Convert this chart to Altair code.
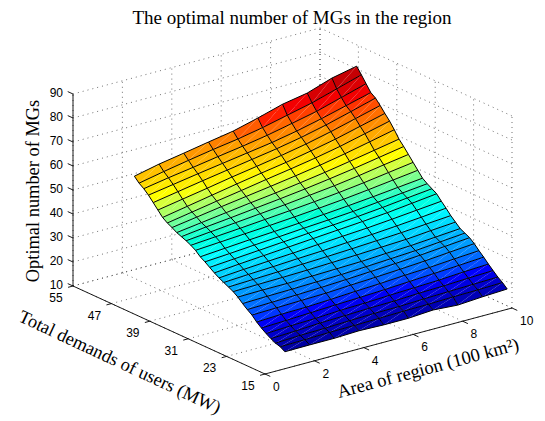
import altair as alt
import pandas as pd

TITLE = "The optimal number of MGs in the region"
X_LABEL = "Area of region (100 km²)"
Y_LABEL = "Total demands of users (MW)"
Z_LABEL = "Optimal number of MGs"

area = [1, 2, 3, 4, 5, 6, 7, 8, 9, 10]
demand = [round(16 + 0.98 * i, 2) for i in range(33)]
# one row per demand level (low to high), one value per area
mgs = [
    [15.6, 15.7, 15.7, 16.1, 15.8, 15.8, 16.5, 15.8, 16.5, 17.0],
    [16.8, 17.0, 17.3, 17.4, 17.6, 17.9, 18.0, 18.3, 18.5, 18.8],
    [17.4, 17.9, 18.1, 18.5, 18.8, 18.9, 19.3, 19.6, 19.9, 20.2],
    [18.4, 18.8, 19.4, 19.7, 20.1, 20.3, 20.8, 21.1, 21.6, 22.0],
    [19.6, 20.1, 20.4, 21.0, 21.3, 21.8, 22.2, 22.6, 23.3, 23.8],
    [21.0, 21.4, 21.9, 22.4, 22.8, 23.3, 23.9, 24.5, 25.1, 25.8],
    [22.6, 23.1, 23.3, 23.8, 24.4, 24.9, 25.6, 26.1, 26.9, 27.6],
    [24.6, 24.9, 25.2, 25.5, 26.1, 26.6, 27.2, 27.9, 28.8, 29.6],
    [26.0, 26.3, 26.6, 27.0, 27.5, 28.1, 28.7, 29.4, 30.3, 31.2],
    [27.6, 27.9, 28.1, 28.4, 28.7, 29.2, 29.8, 30.4, 31.3, 32.2],
    [29.4, 29.6, 29.6, 29.9, 30.2, 30.5, 31.1, 31.6, 32.4, 33.2],
    [30.8, 31.0, 31.2, 31.5, 31.9, 32.3, 32.8, 33.3, 34.2, 35.0],
    [31.8, 32.2, 32.6, 33.1, 33.5, 34.0, 34.6, 35.2, 36.0, 36.8],
    [32.8, 33.4, 33.9, 34.5, 35.0, 35.7, 36.3, 37.1, 38.0, 39.0],
    [33.8, 34.6, 35.3, 35.9, 36.7, 37.4, 38.1, 39.0, 40.0, 41.0],
    [35.0, 35.9, 36.7, 37.5, 38.3, 39.1, 39.9, 40.8, 42.0, 43.2],
    [36.4, 37.2, 38.0, 38.8, 39.6, 40.3, 41.1, 42.1, 43.3, 44.4],
    [37.8, 38.5, 39.3, 40.0, 40.8, 41.5, 42.3, 43.4, 44.5, 45.6],
    [39.0, 39.8, 40.6, 41.3, 42.0, 42.9, 43.8, 44.8, 45.9, 47.0],
    [40.8, 41.5, 42.2, 42.9, 43.7, 44.6, 45.6, 46.8, 48.1, 49.4],
    [42.0, 42.8, 43.6, 44.5, 45.4, 46.4, 47.5, 48.8, 50.3, 51.8],
    [43.0, 44.0, 45.0, 46.0, 47.0, 48.2, 49.4, 50.9, 52.6, 54.2],
    [43.8, 45.1, 46.2, 47.4, 48.6, 49.9, 51.4, 53.0, 54.8, 56.6],
    [44.6, 46.0, 47.4, 48.8, 50.1, 51.6, 53.2, 55.0, 56.9, 58.8],
    [45.8, 47.4, 49.0, 50.5, 52.0, 53.6, 55.3, 57.3, 59.5, 61.8],
    [46.8, 48.6, 50.4, 52.1, 53.9, 55.6, 57.4, 59.5, 62.0, 64.5],
    [48.2, 50.1, 52.0, 53.9, 55.7, 57.4, 59.4, 61.6, 64.2, 66.8],
    [50.4, 52.2, 54.0, 55.9, 57.6, 59.4, 61.4, 63.8, 66.5, 69.2],
    [52.6, 54.4, 56.2, 57.9, 59.6, 61.3, 63.3, 65.7, 68.5, 71.4],
    [54.8, 56.5, 58.2, 59.8, 61.4, 63.0, 65.0, 67.4, 70.1, 72.8],
    [56.6, 58.4, 60.0, 61.7, 63.3, 65.1, 67.3, 69.6, 72.6, 75.6],
    [58.0, 60.1, 62.0, 63.8, 65.4, 67.4, 69.8, 72.2, 75.3, 78.4],
    [60.0, 62.3, 64.1, 66.0, 67.8, 70.5, 73.5, 75.4, 78.9, 81.1],
]
area_ticks = [0, 2, 4, 6, 8, 10]
demand_ticks = [15, 23, 31, 39, 47, 55]
mgs_ticks = [10, 20, 30, 40, 50, 60, 70, 80, 90]

jet_colors = ["#000090", "#0000ff", "#00ffff", "#ffff00", "#ff0000", "#800000"]
jet_stops = [15.6, 23.8, 40.2, 56.5, 74, 90]

# ---------- tables ----------
tri_rows, net_rows = [], []
tid = 0
for i in range(len(demand) - 1):
    for j in range(len(area) - 1):
        c = mgs[i + 1][j + 1]
        ll, lr = (area[j], demand[i], mgs[i][j]), (area[j + 1], demand[i], mgs[i][j + 1])
        ul, ur = (area[j], demand[i + 1], mgs[i + 1][j]), (area[j + 1], demand[i + 1], mgs[i + 1][j + 1])
        for tri in ((ll, lr, ur), (ll, ur, ul)):
            for v, (a, d, z) in enumerate(tri):
                tri_rows.append(dict(t=tid, v=v, a=a, d=d, z=z, c=c))
            tid += 1
for i, d in enumerate(demand):
    for j, a in enumerate(area):
        net_rows.append(dict(l=f"r{i}", v=j, a=a, d=d, z=mgs[i][j]))
        net_rows.append(dict(l=f"c{j}", v=i, a=a, d=d, z=mgs[i][j]))

A0, A1 = area_ticks[0], area_ticks[-1]
D0, D1 = demand_ticks[0], demand_ticks[-1]
Z0, Z1 = mgs_ticks[0], mgs_ticks[-1]


def seg(rows, name, p, q):
    rows.append(dict(l=name, v=0, a=p[0], d=p[1], z=p[2]))
    rows.append(dict(l=name, v=1, a=q[0], d=q[1], z=q[2]))


grid_rows = []
for z in mgs_ticks:
    seg(grid_rows, f"zl{z}", (A0, D1, z), (A1, D1, z))
    seg(grid_rows, f"zr{z}", (A1, D1, z), (A1, D0, z))
for a in area_ticks:
    seg(grid_rows, f"af{a}", (a, D0, Z0), (a, D1, Z0))
    seg(grid_rows, f"aw{a}", (a, D1, Z0), (a, D1, Z1))
for d in demand_ticks:
    seg(grid_rows, f"df{d}", (A0, d, Z0), (A1, d, Z0))
    seg(grid_rows, f"dw{d}", (A1, d, Z0), (A1, d, Z1))

axis_rows = []
seg(axis_rows, "xa", (A0, D0, Z0), (A1, D0, Z0))
seg(axis_rows, "ya", (A0, D0, Z0), (A0, D1, Z0))
seg(axis_rows, "za", (A0, D1, Z0), (A0, D1, Z1))
for a in area_ticks:
    seg(axis_rows, f"xt{a}", (a, D0, Z0), (a, D0 - 1.1, Z0))
for d in demand_ticks:
    seg(axis_rows, f"yt{d}", (A0, d, Z0), (A0 - 0.2, d, Z0))
for z in mgs_ticks:
    seg(axis_rows, f"zt{z}", (A0, D1, z), (A0, D1 + 1.1, z))

PX = "265 + 24.7 * datum.a - 4.8 * (datum.d - 15)"
PY = "374 - 6.6 * datum.a - 2.2 * (datum.d - 15) - 2.4 * (datum.z - 10)"
X = alt.X("px:Q", axis=None, scale=alt.Scale(domain=[8, 537], nice=False, zero=False))
Y = alt.Y("py:Q", axis=None, scale=alt.Scale(domain=[413, 8], nice=False, zero=False))


def base(rows):
    return alt.Chart(pd.DataFrame(rows)).transform_calculate(px=PX, py=PY)


grid = base(grid_rows).mark_line(color="#333333", strokeWidth=0.7, strokeDash=[1, 4]).encode(
    x=X, y=Y, detail="l:N", order="v:Q"
)
faces = base(tri_rows).mark_line(strokeWidth=0, interpolate="linear-closed").encode(
    x=X, y=Y, detail="t:N", order="v:Q",
    fill=alt.Fill("c:Q", legend=None, scale=alt.Scale(domain=jet_stops, range=jet_colors)),
)
net = base(net_rows).mark_line(color="#000000", strokeWidth=1.0).encode(
    x=X, y=Y, detail="l:N", order="v:Q"
)
axes = base(axis_rows).mark_line(color="#000000", strokeWidth=0.9).encode(
    x=X, y=Y, detail="l:N", order="v:Q"
)


def tick_text(rows, **kw):
    return base(rows).mark_text(font="Liberation Sans", fontSize=12, color="#000000", baseline="middle", **kw).encode(
        x=X, y=Y, text="s:N"
    )


ztext = tick_text([dict(a=A0, d=D1, z=z, s=str(z)) for z in mgs_ticks], align="right", dx=-10, dy=-1)
dtext = tick_text([dict(a=A0, d=d, z=Z0, s=str(d)) for d in demand_ticks], align="center", dx=-17, dy=12)
atext = tick_text([dict(a=a, d=D0, z=Z0, s=str(a)) for a in area_ticks], align="left", dx=8, dy=13)


def label(s, x, y, size, angle=0):
    return alt.Chart(pd.DataFrame({"s": [s]})).mark_text(
        x=x - 8, y=y - 8, font="Liberation Serif", fontSize=size, color="#000000",
        align="center", baseline="middle", angle=angle,
    ).encode(text="s:N")


chart = alt.layer(
    grid, faces, net, axes, ztext, dtext, atext,
    label(TITLE, 292, 18, 19),
    label(Z_LABEL, 33, 191, 18.4, 270),
    label(Y_LABEL, 120, 362, 18.4, 25),
    label(X_LABEL, 428, 368, 18.6, 345),
).properties(
    width=529, height=405, padding={"left": 0, "top": 0, "right": 0, "bottom": 8},
    autosize=alt.AutoSizeParams(type="none"),
).configure_view(stroke=None)

chart.save("out.html", embed_options={"renderer": "svg", "actions": False})
